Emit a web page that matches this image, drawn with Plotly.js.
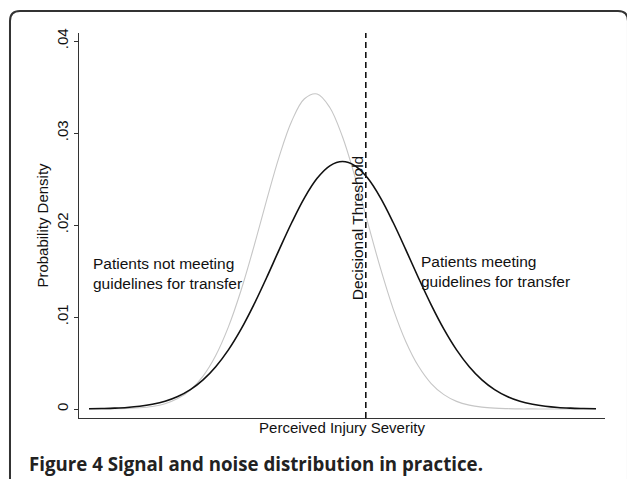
<!DOCTYPE html>
<html>
<head>
<meta charset="utf-8">
<script src="https://cdn.plot.ly/plotly-3.0.1.min.js"></script>
<style>
html,body{margin:0;padding:0;background:#fff;}
#chart{width:627px;height:479px;}
</style>
</head>
<body>
<div id="chart"></div>
<script>
// Perceived injury severity (arbitrary units, no tick labels in original)
var severity = [0,2.5,5,7.5,10,12.5,15,17.5,20,22.5,25,27.5,30,32.5,35,37.5,40,42.5,45,47.5,50,
                52.5,55,57.5,60,62.5,65,67.5,70,72.5,75,77.5,80,82.5,85,87.5,90,92.5,95,97.5,100];
// Patients meeting guidelines for transfer (black curve)
var meetingDensity = [0.00002,0.00005,0.00009,0.00016,0.00029,0.00051,0.00084,0.00136,0.00211,0.00317,
                      0.00460,0.00643,0.00868,0.01132,0.01424,0.01730,0.02027,0.02295,0.02507,0.02643,
                      0.02690,0.02643,0.02507,0.02295,0.02027,0.01730,0.01424,0.01132,0.00868,0.00643,
                      0.00460,0.00317,0.00211,0.00136,0.00084,0.00051,0.00029,0.00016,0.00009,0.00005,0.00002];
// Patients not meeting guidelines for transfer (grey curve)
var notMeetingDensity = [0.00000,0.00001,0.00002,0.00006,0.00013,0.00028,0.00058,0.00113,0.00207,0.00358,
                         0.00582,0.00893,0.01291,0.01760,0.02262,0.02741,0.03131,0.03372,0.03424,0.03278,
                         0.02959,0.02518,0.02020,0.01528,0.01089,0.00732,0.00464,0.00277,0.00156,0.00083,
                         0.00042,0.00020,0.00009,0.00004,0.00001,0.00001,0.00000,0.00000,0.00000,0.00000,0.00000];
var threshold = 54.6;
var yTickVals = [0,0.01,0.02,0.03,0.04];
var yTickText = ['0','.01','.02','.03','.04'];

var font = 'Liberation Sans, Arial, sans-serif';

var traces = [
  {x: severity, y: notMeetingDensity, type: 'scatter', mode: 'lines',
   line: {color: '#c6c6c6', width: 1.1, shape: 'spline', smoothing: 1}, hoverinfo: 'skip'},
  {x: severity, y: meetingDensity, type: 'scatter', mode: 'lines',
   line: {color: '#111111', width: 1.6, shape: 'spline', smoothing: 1}, hoverinfo: 'skip'}
];

var fx = -0.1312, fr = 1.0437, ft = 1.0571, rx = 0.019, ry = 0.026;
var framePath = 'M ' + fx + ',-0.3 L ' + fx + ',' + (ft - ry) +
  ' Q ' + fx + ',' + ft + ' ' + (fx + rx) + ',' + ft +
  ' L ' + (fr - rx) + ',' + ft +
  ' Q ' + fr + ',' + ft + ' ' + fr + ',' + (ft - ry) +
  ' L ' + fr + ',-0.3';

var layout = {
  width: 627, height: 479,
  margin: {l: 79, r: 22, t: 33, b: 61, pad: 0},
  paper_bgcolor: '#ffffff', plot_bgcolor: '#ffffff',
  showlegend: false,
  font: {family: font, size: 15, color: '#111'},
  xaxis: {
    range: [-1.97, 101.78], showgrid: false, zeroline: false,
    showline: true, linecolor: '#333', linewidth: 1,
    ticks: '', showticklabels: false,
    title: {text: 'Perceived Injury Severity', font: {family: font, size: 15, color: '#111'}, standoff: 4}
  },
  yaxis: {
    range: [-0.000978, 0.04087], showgrid: false, zeroline: false,
    showline: true, linecolor: '#333', linewidth: 1,
    ticks: 'outside', ticklen: 4, tickcolor: '#333',
    tickvals: yTickVals, ticktext: yTickText, tickangle: -90,
    tickfont: {family: font, size: 15, color: '#111'},
    title: {text: 'Probability Density', font: {family: font, size: 15, color: '#111'}, standoff: 1}
  },
  shapes: [
    {type: 'line', xref: 'x', yref: 'paper', x0: threshold, x1: threshold, y0: 0, y1: 1,
     line: {color: '#111', width: 1.6, dash: '6px,4px'}},
    {type: 'path', xref: 'paper', yref: 'paper', path: framePath,
     line: {color: '#333', width: 2}}
  ],
  annotations: [
    {x: 0.4, y: 0.01478, xref: 'x', yref: 'y', xanchor: 'left', yanchor: 'middle', align: 'left',
     showarrow: false, text: 'Patients not meeting<br>guidelines for transfer',
     font: {family: font, size: 15.5, color: '#111'}},
    {x: 65.1, y: 0.0149, xref: 'x', yref: 'y', xanchor: 'left', yanchor: 'middle', align: 'left',
     showarrow: false, text: 'Patients meeting<br>guidelines for transfer',
     font: {family: font, size: 15.5, color: '#111'}},
    {x: 52.9, y: 0.01967, xref: 'x', yref: 'y', xanchor: 'center', yanchor: 'middle',
     showarrow: false, textangle: -90, text: 'Decisional Threshold',
     font: {family: font, size: 15.5, color: '#111'}},
    {x: -0.0989, y: -0.1175, xref: 'paper', yref: 'paper', xanchor: 'left', yanchor: 'middle',
     showarrow: false, text: '<b>Figure 4 Signal and noise distribution in practice.</b>',
     font: {family: 'Open Sans, sans-serif', size: 18.7, color: '#222'}}
  ]
};

Plotly.newPlot('chart', traces, layout, {staticPlot: true, displayModeBar: false});
</script>
</body>
</html>
